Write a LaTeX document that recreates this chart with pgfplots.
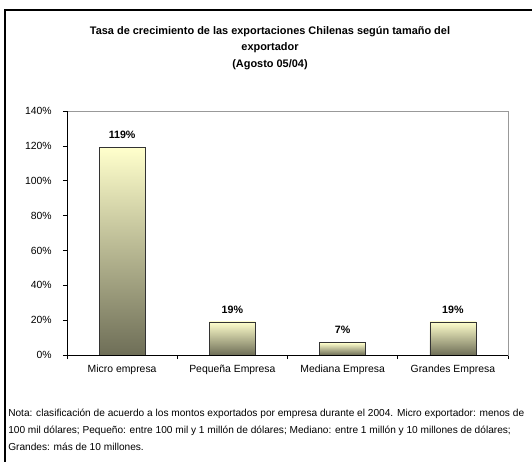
\documentclass[border=0pt]{standalone}
\usepackage{fontspec}
\setmainfont{Liberation Sans}
\usepackage{pgfplots}
\pgfplotsset{compat=1.18}
\definecolor{bartop}{HTML}{FFFFCC}
\definecolor{barbot}{HTML}{6E6E57}
\definecolor{frame}{HTML}{999999}
\begin{document}
\begin{tikzpicture}[x=0.75pt,y=0.75pt]
\useasboundingbox (0,0) rectangle (532,461);
\begin{scope}
\clip (0,0) rectangle (532,461);
\draw[black, line width=1pt] (5,-20) -- (5,451) -- (560,451);
\end{scope}
\node[font=\bfseries\fontsize{8.2}{12.5}\selectfont, align=center] at (270,413)
  {Tasa de crecimiento de las exportaciones Chilenas según tamaño del\\exportador\\(Agosto 05/04)};
\node[font=\fontsize{7.6}{12.75}\selectfont, align=left, anchor=north west, inner sep=0pt] at (8,52)
  {Nota: clasificación de acuerdo a los montos exportados por empresa durante el 2004. Micro exportador: menos de\\
   100 mil dólares; Pequeño: entre 100 mil y 1 millón de dólares; Mediano: entre 1 millón y 10 millones de dólares;\\
   Grandes: más de 10 millones.};
\pgfplotsset{bargrad/.style={draw=black!80, line width=0.5pt, top color=bartop, bottom color=barbot}}
\begin{axis}[
  at={(50.25pt,79.5pt)}, anchor=south west,
  width=330.75pt, height=183pt, scale only axis,
  xmin=-0.5, xmax=3.5, ymin=0, ymax=140,
  ybar, bar width=34.5pt, bar shift=0pt,
  axis line style={frame},
  xtick={0,1,2,3}, major x tick style={draw=none},
  xticklabels={Micro empresa, Pequeña Empresa, Mediana Empresa, Grandes Empresa},
  minor xtick={-0.5,0.5,1.5,2.5,3.5},
  ytick={0,20,...,140},
  ytick pos=left, xtick pos=bottom,
  yticklabel={\pgfmathprintnumber{\tick}\%},
  /pgf/number format/assume math mode=true,
  tick align=outside, tick style={black, line width=0.5pt},
  major tick length=3pt, minor tick length=3pt,
  ticklabel style={font=\fontsize{7.8}{9}\selectfont},
  x tick label style={yshift=-1pt},
  y tick label style={xshift=-5pt},
  nodes near coords={\pgfmathprintnumber{\pgfplotspointmeta}\%},
  every node near coord/.append style={black, font=\bfseries\fontsize{8}{9}\selectfont, yshift=3pt},
  after end axis/.code={
    \draw[black, line width=0.6pt] (rel axis cs:0,1) -- (rel axis cs:0,0) -- (rel axis cs:1,0);
  },
]
\addplot[bargrad] coordinates {(0,119)};
\addplot[bargrad] coordinates {(1,19)};
\addplot[bargrad] coordinates {(2,7)};
\addplot[bargrad] coordinates {(3,19)};
\end{axis}
\end{tikzpicture}
\end{document}
